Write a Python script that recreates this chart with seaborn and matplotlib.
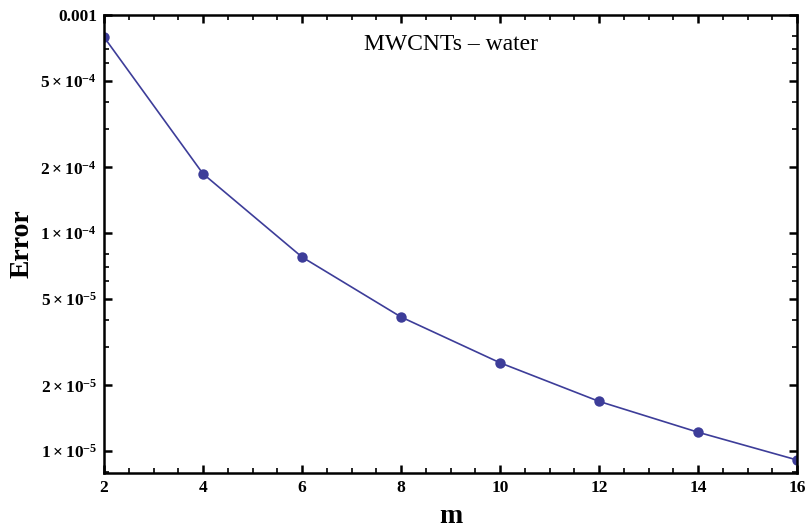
import matplotlib
matplotlib.use("Agg")
import matplotlib.pyplot as plt
import numpy as np
import pandas as pd
import seaborn as sns
from matplotlib.ticker import FixedLocator, FuncFormatter, MultipleLocator

# values
m_values = [2, 4, 6, 8, 10, 12, 14, 16]
error_values = [7.92e-4, 1.87e-4, 7.76e-5, 4.12e-5, 2.54e-5, 1.69e-5, 1.22e-5, 9.1e-6]
y_major = [1e-5, 2e-5, 5e-5, 1e-4, 2e-4, 5e-4, 1e-3]
y_labels = [r"1\times10^{-5}", r"2\times10^{-5}", r"5\times10^{-5}",
            r"1\times10^{-4}", r"2\times10^{-4}", r"5\times10^{-4}", "0.001"]
title_text = "MWCNTs \u2013 water"

LINE_COLOR = "#3d3d99"

sns.set_style("ticks")
plt.rcParams["font.family"] = ["Liberation Serif", "DejaVu Serif"]
plt.rcParams["mathtext.fontset"] = "custom"
plt.rcParams["mathtext.rm"] = "Liberation Serif:bold"
plt.rcParams["mathtext.it"] = "Liberation Serif:bold"
plt.rcParams["mathtext.bf"] = "Liberation Serif:bold"
for key in ("text.color", "axes.labelcolor", "xtick.color", "ytick.color"):
    plt.rcParams[key] = "black"

df = pd.DataFrame({"m": m_values, "Error": error_values})

fig = plt.figure(figsize=(8.1, 5.31), dpi=100)
ax = fig.add_axes([104 / 810, 1 - 473 / 531, 693 / 810, 458 / 531])

sns.lineplot(data=df, x="m", y="Error", ax=ax, color=LINE_COLOR, lw=1.2,
             marker="o", markersize=7.5, markeredgewidth=0, markerfacecolor=LINE_COLOR)

ax.set_yscale("log")
ax.set_xlim(2, 16)
ax.set_ylim(7.93e-6, 1e-3)

ax.xaxis.set_major_locator(MultipleLocator(2))
ax.xaxis.set_minor_locator(MultipleLocator(0.5))
ax.yaxis.set_major_locator(FixedLocator(y_major))
minors = [s * 10.0 ** e for e in (-6, -5, -4) for s in (3, 4, 6, 7, 8)]
ax.yaxis.set_minor_locator(FixedLocator(minors))

label_map = dict(zip(y_major, y_labels))


def fmt(v, pos):
    for k, lab in label_map.items():
        if np.isclose(v, k, rtol=1e-6):
            return lab if lab == "0.001" else "$" + lab + "$"
    return ""


ax.yaxis.set_major_formatter(FuncFormatter(fmt))
ax.yaxis.set_minor_formatter(FuncFormatter(lambda v, p: ""))

for lab in ax.get_xticklabels() + ax.get_yticklabels():
    lab.set_fontweight("bold")
ax.tick_params(axis="both", which="major", direction="in", length=6, width=1.8,
               labelsize=12.5, top=True, right=True, pad=5)
ax.tick_params(axis="both", which="minor", direction="in", length=3.5, width=1.2,
               top=True, right=True)
for sp in ax.spines.values():
    sp.set_linewidth(1.8)
    sp.set_color("black")

ax.set_xlabel("m", fontsize=20, fontweight="bold", labelpad=6)
ax.set_ylabel("Error", fontsize=20, fontweight="bold", labelpad=4)

ax.text(0.5, 0.935, title_text, transform=ax.transAxes, ha="center", va="center",
        fontsize=17)

fig.savefig("out.png", dpi=100)
